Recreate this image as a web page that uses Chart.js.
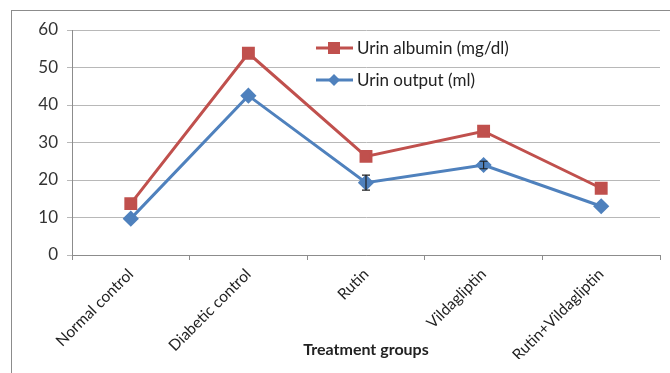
<!DOCTYPE html>
<html>
<head>
<meta charset="utf-8">
<script src="https://cdn.jsdelivr.net/npm/chart.js@4.4.0/dist/chart.umd.min.js"></script>
<style>
  body { margin: 0; background: #fff; }
  .wrap { position: relative; width: 670px; height: 373px; overflow: hidden; }
  .frame { position: absolute; left: 11px; top: 10px; width: 700px; height: 400px; border: 1px solid #8c8c8c; }
  canvas { position: absolute; left: 0; top: 0; }
</style>
</head>
<body>
<div class="wrap">
  <div class="frame"></div>
  <canvas id="line" width="670" height="373"></canvas>
</div>
<script>
const groups = ["Normal control", "Diabetic control", "Rutin", "Vildagliptin", "Rutin+Vildagliptin"];
const albumin = [13.7, 53.8, 26.3, 33.0, 17.8];
const output = [9.7, 42.5, 19.3, 24.0, 13.0];
const outputErr = [0, 0, 2.0, 1.0, 0];
const yTicks = [0, 10, 20, 30, 40, 50, 60];

const red = "#c0504d";
const blue = "#4f81bd";
const font = "Lato, 'Liberation Sans', sans-serif";

// error bars on the output series
const errorBars = {
  id: "errorBars",
  afterDatasetsDraw(chart) {
    const { ctx, scales } = chart;
    ctx.save();
    ctx.strokeStyle = "#222";
    ctx.lineWidth = 1.2;
    outputErr.forEach((e, i) => {
      if (!e) return;
      const x = scales.x.getPixelForValue(i);
      const y1 = scales.y.getPixelForValue(output[i] + e);
      const y2 = scales.y.getPixelForValue(output[i] - e);
      ctx.beginPath();
      ctx.moveTo(x, y1); ctx.lineTo(x, y2);
      ctx.moveTo(x - 4, y1); ctx.lineTo(x + 4, y1);
      ctx.moveTo(x - 4, y2); ctx.lineTo(x + 4, y2);
      ctx.stroke();
    });
    ctx.restore();
  }
};

// legend inside the plot, like the original
const innerLegend = {
  id: "innerLegend",
  afterDraw(chart) {
    const ctx = chart.ctx;
    const items = [
      { text: "Urin albumin (mg/dl)", color: red, shape: "square", y: 48 },
      { text: "Urin output (ml)", color: blue, shape: "diamond", y: 80 }
    ];
    ctx.save();
    items.forEach((it) => {
      ctx.strokeStyle = it.color;
      ctx.lineWidth = 3;
      ctx.beginPath();
      ctx.moveTo(316, it.y); ctx.lineTo(353, it.y);
      ctx.stroke();
      ctx.fillStyle = it.color;
      if (it.shape === "square") {
        ctx.fillRect(328, it.y - 6, 12, 12);
      } else {
        ctx.beginPath();
        ctx.moveTo(334, it.y - 6); ctx.lineTo(340, it.y);
        ctx.lineTo(334, it.y + 6); ctx.lineTo(328, it.y);
        ctx.closePath(); ctx.fill();
      }
      ctx.fillStyle = "#222";
      ctx.font = "17px " + font;
      ctx.textBaseline = "middle";
      ctx.fillText(it.text, 357, it.y + 1);
    });
    ctx.restore();
  }
};

new Chart(document.getElementById("line"), {
  type: "line",
  data: {
    labels: groups,
    datasets: [
      {
        label: "Urin albumin (mg/dl)",
        data: albumin,
        borderColor: red,
        backgroundColor: red,
        borderWidth: 3,
        pointStyle: "rect",
        pointRadius: 7,
        pointHoverRadius: 7,
        tension: 0
      },
      {
        label: "Urin output (ml)",
        data: output,
        borderColor: blue,
        backgroundColor: blue,
        borderWidth: 3,
        pointStyle: "rectRot",
        pointRadius: 6,
        pointHoverRadius: 6,
        tension: 0
      }
    ]
  },
  options: {
    responsive: false,
    animation: false,
    layout: { padding: { top: 30, right: 10, bottom: 14, left: 0 } },
    plugins: { legend: { display: false }, tooltip: { enabled: false } },
    scales: {
      x: {
        offset: true,
        grid: { offset: true, drawOnChartArea: false, color: "#8c8c8c", tickLength: 5 },
        border: { color: "#8c8c8c" },
        ticks: { color: "#222", font: { family: font, size: 15.5 }, minRotation: 45, maxRotation: 45, padding: 5 },
        title: { display: true, text: "Treatment groups", color: "#222", font: { family: font, size: 16, weight: "bold" }, padding: 0 },
        afterFit: (scale) => { scale.height = 104; }
      },
      y: {
        min: 0,
        max: 60,
        afterBuildTicks: (scale) => { scale.ticks = yTicks.map((v) => ({ value: v })); },
        grid: { color: "#b8b8b8", tickLength: 5 },
        border: { color: "#8c8c8c" },
        ticks: { color: "#333", font: { family: font, size: 17 }, padding: 9 },
        afterFit: (scale) => { scale.width = 72; }
      }
    }
  },
  plugins: [errorBars, innerLegend]
});
</script>
</body>
</html>
